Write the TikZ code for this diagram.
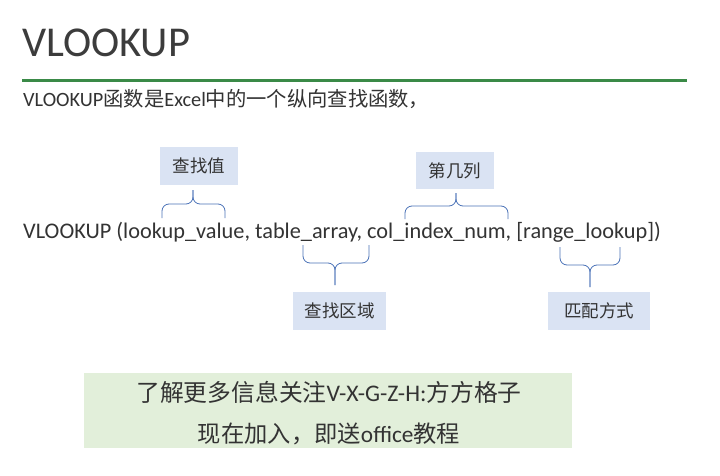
\documentclass[tikz,border=0pt]{standalone}
\usepackage{fontspec}
\setmainfont{Carlito}
\newfontfamily\cjk{Noto Sans CJK SC}
\definecolor{txt}{HTML}{333333}
\definecolor{ttl}{HTML}{3C3C3C}
\definecolor{rule}{HTML}{3A8A47}
\definecolor{lblue}{HTML}{DAE3F3}
\definecolor{lgreen}{HTML}{E2EFDA}
\definecolor{brc}{HTML}{4A72B8}
\tikzset{
  lbl/.style={fill=lblue, inner sep=0pt, text=txt, font=\cjk\fontsize{17.5}{20}\selectfont},
  brace/.style={draw=brc, line width=0.8pt, rounded corners=7pt},
}
\begin{document}
\begin{tikzpicture}[x=1pt,y=-1pt]
\useasboundingbox (0,0) rectangle (720,476);
\fill[white] (0,0) rectangle (720,476);
% title
\node[anchor=base west, inner sep=0pt, text=ttl, font=\fontsize{42.5}{48}\selectfont] (title) at (22,57) {VLOOKUP};
\coordinate (r1) at (22,81);
\coordinate (r2) at (687,81);
\draw[rule, line width=3pt] (r1) -- (r2);
\node[anchor=base west, inner sep=0pt, text=txt, font=\fontsize{20.3}{24}\selectfont] (sub) at (23,107) {VLOOKUP{\cjk 函数是}Excel{\cjk 中的一个纵向查找函数，}};
% formula
\node[anchor=base west, inner sep=0pt, text=txt, font=\fontsize{22.3}{28}\selectfont] (formula) at (23,238) {VLOOKUP (lookup\_value, table\_array, col\_index\_num, [range\_lookup])};
% label boxes
\node[lbl, minimum width=78pt, minimum height=38pt] (b1) at (199,166) {查找值};
\node[lbl, minimum width=78pt, minimum height=37pt] (b2) at (455,170.5) {第几列};
\node[lbl, minimum width=93pt, minimum height=38pt] (b3) at (339.5,311) {查找区域};
\node[lbl, minimum width=102pt, minimum height=38pt] (b4) at (599,311) {匹配方式};
% braces
\coordinate (l1) at (162,218); \coordinate (r1b) at (225,218); \coordinate (m1) at (193,204); \coordinate (t1) at (193,190);
\draw[brace] (l1) -- (l1 |- m1) -- (m1) -- (t1);
\draw[brace] (r1b) -- (r1b |- m1) -- (m1) -- (t1);
\coordinate (l2) at (405,219); \coordinate (r2b) at (508,219); \coordinate (m2) at (456,206); \coordinate (t2) at (456,193);
\draw[brace] (l2) -- (l2 |- m2) -- (m2) -- (t2);
\draw[brace] (r2b) -- (r2b |- m2) -- (m2) -- (t2);
\coordinate (l3) at (303,245); \coordinate (r3b) at (369,245); \coordinate (m3) at (335,263); \coordinate (t3) at (335,285);
\draw[brace] (l3) -- (l3 |- m3) -- (m3) -- (t3);
\draw[brace] (r3b) -- (r3b |- m3) -- (m3) -- (t3);
\coordinate (l4) at (560,247); \coordinate (r4b) at (620,247); \coordinate (m4) at (590,265); \coordinate (t4) at (590,287);
\draw[brace] (l4) -- (l4 |- m4) -- (m4) -- (t4);
\draw[brace] (r4b) -- (r4b |- m4) -- (m4) -- (t4);
% footer box
\node[fill=lgreen, inner sep=0pt, minimum width=488pt, minimum height=75pt] (foot) at (328,410.5) {};
\node[text=txt, inner sep=0pt, font=\fontsize{23.8}{28}\selectfont] (f1) at (329,392) {{\cjk 了解更多信息关注}V-X-G-Z-H:{\cjk 方方格子}};
\node[text=txt, inner sep=0pt, font=\fontsize{23.3}{28}\selectfont] (f2) at (329,434) {{\cjk 现在加入，即送}office{\cjk 教程}};
\end{tikzpicture}
\end{document}
